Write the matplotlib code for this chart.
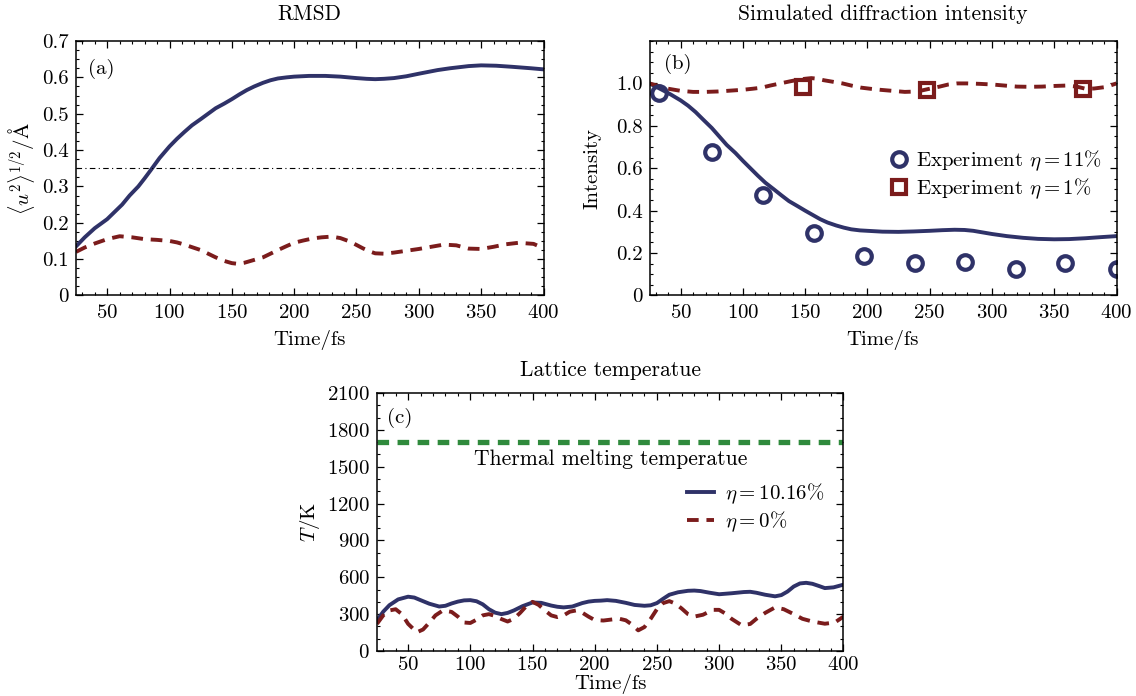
import matplotlib
matplotlib.use("Agg")
import matplotlib.pyplot as plt
from matplotlib.ticker import MultipleLocator, FixedLocator

plt.rcParams['font.family'] = 'serif'
plt.rcParams['font.serif'] = ['cmr10', 'DejaVu Serif']
plt.rcParams['mathtext.fontset'] = 'cm'
plt.rcParams['axes.formatter.use_mathtext'] = True
plt.rcParams['axes.unicode_minus'] = False

NAVY = '#2f3268'
RED = '#7b1c1c'
GREEN = '#2f8a3c'

# ---------------- Panel (a): RMSD ----------------
t_a_solid = [25, 32, 40, 50, 56, 62, 68, 75, 80, 85, 92, 100, 106, 112, 118, 125, 131, 137, 144, 150, 156,
             162, 168, 175, 181, 187, 194, 200, 212, 225, 237, 250, 258, 265, 272, 280, 290, 300, 315, 325,
             340, 350, 362, 375, 390, 400]
rmsd_solid = [0.135, 0.16, 0.185, 0.21, 0.23, 0.25, 0.275, 0.30, 0.322, 0.345, 0.378, 0.41, 0.431, 0.45,
              0.468, 0.485, 0.50, 0.515, 0.528, 0.54, 0.553, 0.565, 0.575, 0.585, 0.592, 0.597, 0.60, 0.602,
              0.604, 0.604, 0.602, 0.598, 0.596, 0.595, 0.596, 0.598, 0.603, 0.61, 0.62, 0.625, 0.631,
              0.633, 0.632, 0.629, 0.625, 0.622]
t_a_dash = [25, 32, 40, 50, 60, 70, 80, 90, 100, 106, 112, 118, 125, 131, 137, 144, 150, 155, 160, 167,
            175, 181, 187, 194, 200, 207, 215, 222, 230, 237, 245, 250, 255, 260, 265, 272, 280, 290, 300,
            310, 320, 330, 340, 350, 360, 370, 380, 392, 400]
rmsd_dash = [0.12, 0.132, 0.143, 0.155, 0.163, 0.16, 0.155, 0.153, 0.15, 0.146, 0.14, 0.133, 0.125, 0.115,
             0.105, 0.095, 0.089, 0.087, 0.09, 0.097, 0.105, 0.115, 0.125, 0.136, 0.145, 0.151, 0.157,
             0.16, 0.162, 0.158, 0.148, 0.139, 0.13, 0.122, 0.116, 0.115, 0.118, 0.123, 0.128, 0.134,
             0.14, 0.138, 0.129, 0.128, 0.134, 0.141, 0.145, 0.142, 0.13]
rmsd_threshold = 0.35

# ---------------- Panel (b): diffraction intensity ----------------
t_b_solid = [25, 30, 35, 42, 50, 56, 62, 68, 75, 81, 87, 94, 100, 106, 112, 118, 125, 131, 137, 144, 150,
             156, 162, 168, 175, 181, 187, 194, 200, 212, 225, 237, 250, 260, 270, 278, 285, 292, 300, 312,
             325, 337, 350, 362, 375, 387, 400]
int_solid = [1.0, 0.985, 0.97, 0.948, 0.92, 0.895, 0.865, 0.83, 0.79, 0.75, 0.71, 0.672, 0.635, 0.60,
             0.565, 0.532, 0.5, 0.472, 0.445, 0.421, 0.4, 0.38, 0.36, 0.344, 0.33, 0.32, 0.312, 0.307,
             0.305, 0.301, 0.30, 0.302, 0.305, 0.308, 0.31, 0.309, 0.305, 0.298, 0.29, 0.28, 0.272,
             0.267, 0.265, 0.266, 0.27, 0.275, 0.28]
t_b_dash = [25, 32, 40, 50, 60, 70, 80, 90, 100, 108, 115, 122, 130, 138, 145, 150, 155, 160, 165, 172,
            180, 187, 195, 202, 210, 220, 230, 240, 250, 258, 265, 272, 280, 290, 300, 310, 320, 330, 340,
            350, 360, 368, 375, 382, 390, 395, 400]
int_dash = [1.0, 0.988, 0.975, 0.965, 0.96, 0.96, 0.962, 0.966, 0.97, 0.975, 0.98, 0.99, 1.0, 1.01, 1.018,
            1.022, 1.025, 1.022, 1.015, 1.008, 1.0, 0.99, 0.98, 0.975, 0.97, 0.965, 0.96, 0.962, 0.975,
            0.985, 0.995, 1.0, 1.0, 0.998, 0.995, 0.99, 0.985, 0.984, 0.985, 0.988, 0.99, 0.985, 0.975,
            0.976, 0.982, 0.99, 1.0]
t_exp11 = [33, 75, 116, 157, 197, 238, 278, 319, 359, 400]
int_exp11 = [0.955, 0.675, 0.475, 0.295, 0.185, 0.155, 0.16, 0.125, 0.155, 0.125]
t_exp1 = [148, 248, 373]
int_exp1 = [0.985, 0.97, 0.975]

# ---------------- Panel (c): lattice temperature ----------------
t_c = [25, 30, 35, 42, 50, 55, 60, 67, 75, 80, 85, 90, 95, 100, 105, 110, 115, 120, 125, 130, 135, 142,
       150, 157, 165, 170, 175, 182, 190, 195, 200, 205, 210, 217, 225, 232, 240, 245, 250, 255, 260, 267,
       275, 280, 285, 292, 300, 310, 320, 325, 330, 337, 345, 350, 355, 360, 365, 370, 375, 380, 385, 392,
       400]
temp_solid = [249, 320, 373, 420, 442, 435, 414, 385, 362, 368, 387, 402, 412, 414, 405, 380, 340, 312,
              300, 310, 330, 365, 395, 392, 370, 360, 355, 362, 390, 402, 408, 410, 414, 408, 392, 375,
              368, 372, 390, 425, 458, 478, 490, 492, 488, 475, 462, 470, 480, 482, 474, 458, 445, 455,
              484, 525, 550, 555, 547, 530, 512, 518, 540]
t_c_dash = [25, 30, 35, 40, 45, 50, 57, 62, 67, 72, 78, 85, 90, 95, 100, 105, 110, 115, 120, 125, 130,
            135, 140, 145, 150, 155, 160, 165, 170, 175, 180, 185, 190, 195, 200, 207, 215, 220, 225, 230,
            235, 240, 245, 250, 255, 260, 265, 270, 275, 280, 287, 295, 300, 305, 310, 318, 325, 330, 337,
            345, 352, 360, 367, 375, 385, 393, 400]
temp_dash = [221, 290, 330, 340, 300, 221, 152, 175, 230, 290, 330, 318, 280, 232, 228, 255, 290, 300,
             285, 260, 240, 262, 310, 365, 400, 375, 330, 290, 276, 290, 320, 330, 312, 280, 252, 248,
             258, 262, 250, 215, 168, 195, 262, 340, 390, 406, 385, 345, 300, 280, 295, 335, 335, 305,
             262, 210, 220, 262, 310, 355, 340, 300, 262, 240, 222, 232, 280]
melting_T = 1700

W, H = 1136, 696
fig = plt.figure(figsize=(W / 100, H / 100), dpi=100)

def axrect(l, r, t, b):
    return [l / W, 1 - b / H, (r - l) / W, (b - t) / H]

ax_a = fig.add_axes(axrect(76, 543.5, 41, 295.5))
ax_b = fig.add_axes(axrect(649.5, 1116.5, 41, 295.5))
ax_c = fig.add_axes(axrect(377, 843.5, 393, 651))

FS = 15
TFS = 15.5

def style(ax, ymaj, ymin, xpad, xlabelpad):
    ax.set_xlim(25, 400)
    ax.xaxis.set_major_locator(MultipleLocator(50))
    ax.xaxis.set_minor_locator(MultipleLocator(10))
    ax.yaxis.set_major_locator(ymaj)
    ax.yaxis.set_minor_locator(MultipleLocator(ymin))
    ax.tick_params(which='both', direction='in', top=True, right=True, labelsize=FS)
    ax.tick_params(axis='x', pad=xpad)
    ax.tick_params(axis='y', pad=5)
    ax.tick_params(which='major', length=5, width=0.9)
    ax.tick_params(which='minor', length=2.5, width=0.8)
    for s in ax.spines.values():
        s.set_linewidth(1.1)
    ax.set_xlabel('Time/fs', fontsize=FS, labelpad=xlabelpad)

fmt1 = plt.FuncFormatter(lambda v, p: '0' if abs(v) < 1e-9 else f'{v:.1f}')

# (a)
ax_a.plot(t_a_solid, rmsd_solid, color=NAVY, lw=2.8)
ax_a.plot(t_a_dash, rmsd_dash, color=RED, lw=2.8, dashes=(3, 2))
ax_a.axhline(rmsd_threshold, color='black', lw=0.8, dashes=(5, 3, 1, 3))
ax_a.set_ylim(0, 0.7)
style(ax_a, MultipleLocator(0.1), 0.025, 6, 6)
ax_a.yaxis.set_major_formatter(fmt1)
ax_a.set_ylabel(r'$\langle u^2\rangle^{1/2}/\mathrm{\AA}$', fontsize=FS, labelpad=4)
ax_a.set_title('RMSD', fontsize=TFS, pad=15)
ax_a.text(0.025, 0.87, '(a)', transform=ax_a.transAxes, fontsize=FS)

# (b)
ax_b.plot(t_b_solid, int_solid, color=NAVY, lw=2.8)
ax_b.plot(t_b_dash, int_dash, color=RED, lw=2.8, dashes=(3, 2))
ax_b.plot(t_exp11, int_exp11, ls='none', marker='o', ms=10.5, mfc='none', mec=NAVY, mew=3,
          label=r'Experiment $\eta=11\%$')
ax_b.plot(t_exp1, int_exp1, ls='none', marker='s', ms=10.5, mfc='none', mec=RED, mew=3,
          label=r'Experiment $\eta=1\%$')
ax_b.set_ylim(0, 1.2)
style(ax_b, FixedLocator([0, 0.2, 0.4, 0.6, 0.8, 1.0]), 0.05, 6, 6)
ax_b.yaxis.set_major_formatter(fmt1)
ax_b.set_ylabel('Intensity', fontsize=FS, labelpad=10)
ax_b.set_title('Simulated diffraction intensity', fontsize=TFS, pad=15)
ax_b.text(0.03, 0.89, '(b)', transform=ax_b.transAxes, fontsize=FS)
ax_b.legend(loc='center right', bbox_to_anchor=(1.0, 0.475), frameon=False, fontsize=FS,
            handletextpad=0.2, labelspacing=0.15, borderpad=0.2, handlelength=1.2)

# (c)
ax_c.plot(t_c, temp_solid, color=NAVY, lw=2.8, label=r'$\eta=10.16\%$')
ax_c.plot(t_c_dash, temp_dash, color=RED, lw=2.8, dashes=(3, 2), label=r'$\eta=0\%$')
ax_c.axhline(melting_T, color=GREEN, lw=3.8, dashes=(2.2, 1.6))
ax_c.set_ylim(0, 2100)
style(ax_c, MultipleLocator(300), 100, 3.5, 0)
ax_c.set_ylabel(r'$T$/K', fontsize=FS, labelpad=4)
ax_c.set_title('Lattice temperatue', fontsize=TFS, pad=12)
ax_c.text(0.022, 0.885, '(c)', transform=ax_c.transAxes, fontsize=FS)
ax_c.text(0.5, 0.745, 'Thermal melting temperatue', transform=ax_c.transAxes, fontsize=TFS,
          ha='center', va='center')
ax_c.legend(loc='center right', bbox_to_anchor=(0.99, 0.555), frameon=False, fontsize=FS,
            handletextpad=0.5, labelspacing=0.15, borderpad=0.2, handlelength=1.3)

fig.savefig('out.png', dpi=100)
